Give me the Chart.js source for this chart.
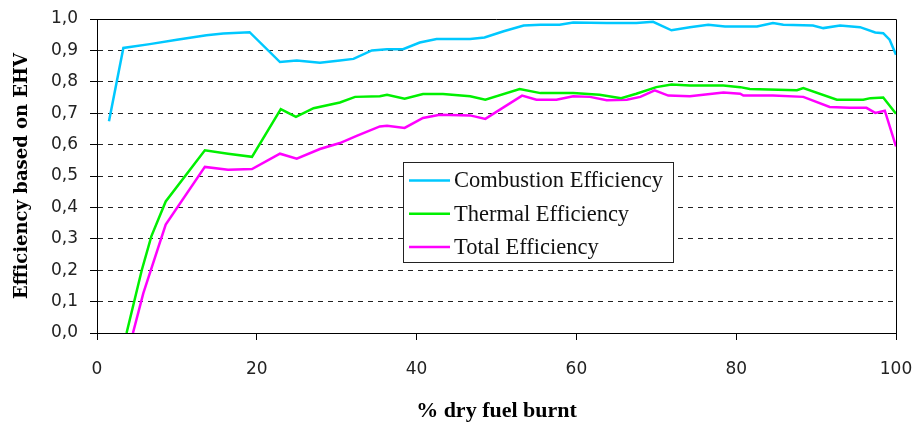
<!DOCTYPE html>
<html>
<head>
<meta charset="utf-8">
<title>Efficiency vs % dry fuel burnt</title>
<script src="https://cdn.jsdelivr.net/npm/chart.js@4"></script>
<style>
  html, body { margin: 0; padding: 0; background: #fff; }
  #wrap { width: 917px; height: 427px; }
</style>
</head>
<body>
<div id="wrap"><canvas id="myChart"></canvas></div>
<script>
// Series data (x = % dry fuel burnt, y = efficiency)
const combustionX = [1.5, 3.3, 6.6, 10, 13.7, 15.8, 19.1, 22.9, 25, 27.9, 30.4, 32.1, 34.4, 36.3, 38.3, 40.4, 42.5, 46.7, 48.5, 50.9, 53.4, 55.5, 57.9, 59.6, 63.8, 67.5, 69.6, 71.9, 74.2, 76.5, 78.6, 82.6, 84.6, 85.9, 89.6, 90.9, 93, 95.5, 97.4, 98.4, 99.2, 100];
const combustionY = [0.674, 0.908, 0.920, 0.934, 0.948, 0.954, 0.958, 0.863, 0.868, 0.861, 0.868, 0.873, 0.900, 0.904, 0.904, 0.925, 0.936, 0.936, 0.941, 0.961, 0.979, 0.982, 0.982, 0.989, 0.987, 0.987, 0.991, 0.964, 0.974, 0.982, 0.976, 0.976, 0.987, 0.982, 0.979, 0.971, 0.979, 0.974, 0.957, 0.955, 0.934, 0.886];

const thermalX = [3.7, 5.6, 6.8, 8.6, 13.5, 16.4, 19.4, 23, 24.9, 27.1, 30.4, 32.3, 35.4, 36.3, 38.5, 40.8, 43.3, 46.7, 48.6, 52.9, 55.5, 59.6, 62.9, 65.6, 67.5, 70, 71.9, 74.2, 78.4, 80.5, 81.7, 87.6, 88.4, 92.6, 95.9, 96.8, 98.4, 100];
const thermalY = [0.0, 0.2, 0.308, 0.419, 0.582, 0.571, 0.561, 0.713, 0.688, 0.716, 0.734, 0.752, 0.754, 0.759, 0.746, 0.761, 0.761, 0.754, 0.743, 0.777, 0.764, 0.764, 0.759, 0.748, 0.762, 0.783, 0.791, 0.788, 0.788, 0.783, 0.777, 0.773, 0.780, 0.743, 0.743, 0.748, 0.750, 0.698];

const totalX = [4.5, 5.8, 8.6, 13.5, 16.4, 19.4, 22.9, 25, 27.9, 30.4, 32.5, 35.4, 36.3, 38.5, 40.8, 42.9, 46.7, 48.6, 53.2, 55, 57.5, 59.6, 61.7, 63.8, 66.3, 68, 69.8, 71.5, 74.2, 78.4, 80.5, 80.9, 84.6, 88.4, 91.7, 94.2, 96.3, 97.4, 98.6, 100];
const totalY = [0.0, 0.127, 0.345, 0.529, 0.520, 0.522, 0.571, 0.555, 0.586, 0.605, 0.628, 0.658, 0.660, 0.653, 0.685, 0.695, 0.693, 0.682, 0.756, 0.743, 0.743, 0.754, 0.752, 0.741, 0.743, 0.752, 0.773, 0.756, 0.754, 0.766, 0.762, 0.756, 0.756, 0.752, 0.720, 0.717, 0.717, 0.701, 0.708, 0.594];

const seriesNames = ['Combustion Efficiency', 'Thermal Efficiency', 'Total Efficiency'];
const xTicks = [0, 20, 40, 60, 80, 100];

// pair up x and y arrays into points
const toPoints = (xs, ys) => xs.map((x, i) => ({ x: x, y: ys[i] }));

// Box around the plot area (top and right edges)
const frame = {
    id: 'frame',
    afterDatasetsDraw(chart) {
        const { ctx, chartArea: a } = chart;
        ctx.save();
        ctx.strokeStyle = '#000';
        ctx.lineWidth = 1;
        ctx.beginPath();
        ctx.moveTo(a.left, a.top + 0.5);
        ctx.lineTo(a.right + 0.5, a.top + 0.5);
        ctx.lineTo(a.right + 0.5, a.bottom);
        ctx.stroke();
        ctx.restore();
    }
};

// Legend drawn as a boxed list inside the plot
const boxLegend = {
    id: 'boxLegend',
    afterDraw(chart) {
        const { ctx } = chart;
        const left = 403, top = 162, w = 270, h = 100;
        ctx.save();
        ctx.fillStyle = '#fff';
        ctx.fillRect(left, top, w, h);
        ctx.strokeStyle = '#222';
        ctx.lineWidth = 1;
        ctx.strokeRect(left + 0.5, top + 0.5, w, h);
        ctx.font = '22.5px "Liberation Serif", serif';
        ctx.textBaseline = 'middle';
        chart.data.datasets.forEach((ds, i) => {
            const y = top + 18.5 + i * 33.3;
            ctx.strokeStyle = ds.borderColor;
            ctx.lineWidth = 2.5;
            ctx.beginPath();
            ctx.moveTo(left + 6, y);
            ctx.lineTo(left + 47, y);
            ctx.stroke();
            ctx.fillStyle = '#111';
            ctx.fillText(ds.label, left + 51, y + 1);
        });
        ctx.restore();
    }
};

new Chart(document.getElementById('myChart').getContext('2d'), {
    type: 'line',
    data: {
        datasets: [
            { label: seriesNames[0], data: toPoints(combustionX, combustionY), borderColor: '#00c8ff' },
            { label: seriesNames[1], data: toPoints(thermalX, thermalY), borderColor: '#00f000' },
            { label: seriesNames[2], data: toPoints(totalX, totalY), borderColor: '#ff00ff' }
        ]
    },
    options: {
        responsive: true,
        maintainAspectRatio: false,
        devicePixelRatio: 1,
        animation: false,
        layout: { padding: { top: 19, right: 21, left: 0, bottom: 0 } },
        elements: {
            line: { borderWidth: 2.5, tension: 0, fill: false },
            point: { radius: 0 }
        },
        plugins: {
            legend: { display: false },
            tooltip: { enabled: false }
        },
        scales: {
            x: {
                type: 'linear',
                min: 0,
                max: 100,
                afterFit: (scale) => {
                    scale.height = 94;
                    scale.paddingLeft = 0;
                    scale.paddingRight = 0;
                },
                afterBuildTicks: (scale) => { scale.ticks = xTicks.map(v => ({ value: v })); },
                ticks: {
                    padding: 19,
                    color: '#222',
                    font: { family: '"DejaVu Sans", sans-serif', size: 17 }
                },
                grid: {
                    drawOnChartArea: false,
                    drawTicks: true,
                    tickLength: 7,
                    tickColor: '#000',
                    tickBorderDash: []
                },
                border: { display: true, color: '#000', width: 1 },
                title: {
                    display: true,
                    text: '% dry fuel burnt',
                    color: '#000',
                    font: { family: '"Liberation Serif", serif', size: 22, weight: 'bold', lineHeight: 1 },
                    padding: { top: 0, bottom: 5 }
                }
            },
            y: {
                min: 0,
                max: 1,
                afterFit: (scale) => {
                    scale.width = 97;
                    scale.paddingTop = 0;
                    scale.paddingBottom = 0;
                },
                ticks: {
                    stepSize: 0.1,
                    padding: 12,
                    color: '#222',
                    font: { family: '"DejaVu Sans", sans-serif', size: 17 },
                    callback: (v) => v.toFixed(1).replace('.', ',')
                },
                grid: {
                    color: (c) => (c.tick && (c.tick.value <= 0.001 || c.tick.value >= 0.999)) ? 'rgba(0,0,0,0)' : '#222',
                    lineWidth: 1,
                    drawTicks: true,
                    tickLength: 7,
                    tickColor: '#000',
                    tickBorderDash: []
                },
                border: { display: true, color: '#000', width: 1, dash: [5, 5] },
                title: {
                    display: true,
                    text: 'Efficiency based on EHV',
                    color: '#000',
                    font: { family: '"DejaVu Serif", serif', size: 18, weight: 'bold', lineHeight: 1 },
                    padding: { top: 13, bottom: 0 }
                }
            }
        }
    },
    plugins: [frame, boxLegend]
});
</script>
</body>
</html>
